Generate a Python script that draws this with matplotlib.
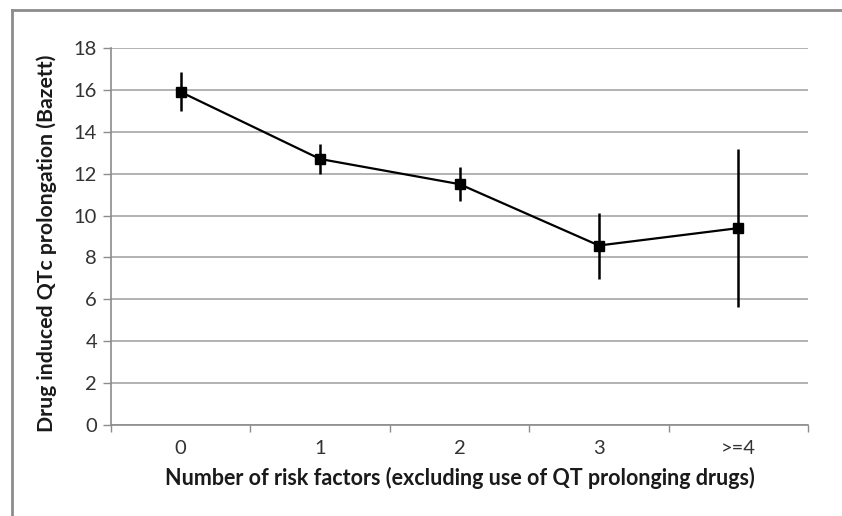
import matplotlib
matplotlib.use("Agg")
import matplotlib.pyplot as plt
from matplotlib.lines import Line2D

plt.rcParams['font.family'] = ['Lato', 'DejaVu Sans']

categories = ["0", "1", "2", "3", ">=4"]
qtc_mean = [15.9, 12.7, 11.5, 8.57, 9.4]
ci_upper = [16.85, 13.4, 12.33, 10.1, 13.2]
ci_lower = [15.0, 12.0, 10.7, 6.98, 5.63]

yticks = [0, 2, 4, 6, 8, 10, 12, 14, 16, 18]

fig = plt.figure(figsize=(8.42, 5.16), dpi=100)
ax = fig.add_axes([111 / 842, 1 - 425 / 516, 697 / 842, 377 / 516])

x = list(range(len(categories)))
err_low = [m - lo for m, lo in zip(qtc_mean, ci_lower)]
err_high = [hi - m for m, hi in zip(qtc_mean, ci_upper)]

ax.errorbar(x, qtc_mean, yerr=[err_low, err_high], color="black", lw=1.6,
            elinewidth=1.8, capsize=0, marker="s", markersize=7.5,
            markerfacecolor="black", markeredgecolor="black", zorder=3)

ax.set_xlim(-0.5, len(categories) - 0.5)
ax.set_ylim(0, 18)
ax.set_yticks(yticks)
ax.set_yticklabels([str(v) for v in yticks])
ax.yaxis.grid(True, color="#a6a6a6", lw=1.2)
ax.set_axisbelow(True)

# category labels centred, tick marks on the category boundaries
ax.set_xticks(x)
ax.set_xticklabels(categories)
ax.tick_params(axis="x", length=0, labelsize=14.5, pad=11, labelcolor="#333333")
ax.set_xticks([i - 0.5 for i in range(len(categories) + 1)], minor=True)
ax.tick_params(axis="x", which="minor", length=5, color="#8c8c8c", width=1)
ax.tick_params(axis="y", length=6, color="#8c8c8c", width=1, labelsize=14.5,
               pad=4, labelcolor="#333333")

for side in ["top", "right"]:
    ax.spines[side].set_visible(False)
for side in ["left", "bottom"]:
    ax.spines[side].set_color("#8c8c8c")
    ax.spines[side].set_linewidth(1.2)

ax.set_xlabel("Number of risk factors (excluding use of QT prolonging drugs)",
              fontsize=15.5, fontweight="bold", color="#1a1a1a", va="center")
ax.xaxis.set_label_coords(0.5, -0.14)
ax.set_ylabel("Drug induced QTc prolongation (Bazett)",
              fontsize=15.3, fontweight="bold", color="#1a1a1a", va="center")
ax.yaxis.set_label_coords(-0.092, 0.481)

# chart-area border
fig.add_artist(Line2D([11.5 / 842, 1.0], [1 - 9.5 / 516, 1 - 9.5 / 516],
                      transform=fig.transFigure, color="#8c8c8c", lw=2))
fig.add_artist(Line2D([11.5 / 842, 11.5 / 842], [0, 1 - 9.5 / 516],
                      transform=fig.transFigure, color="#8c8c8c", lw=2))

fig.savefig("out.png", dpi=100)
